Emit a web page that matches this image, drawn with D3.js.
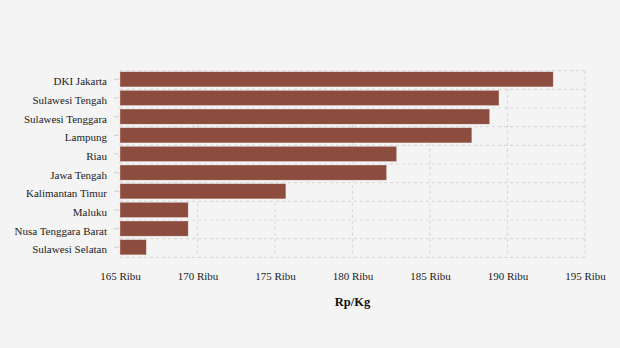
<!DOCTYPE html>
<html>
<head>
<meta charset="utf-8">
<script src="https://cdn.jsdelivr.net/npm/d3@7"></script>
<style>
  html, body { margin: 0; padding: 0; background: #f4f4f4; }
  svg { display: block; font-family: "Liberation Serif", "Times New Roman", serif; }
</style>
</head>
<body>
<svg id="chart" width="620" height="348"></svg>
<script>
// Harga per kilogram menurut provinsi (ribu rupiah)
const provinces = [
  "DKI Jakarta", "Sulawesi Tengah", "Sulawesi Tenggara", "Lampung", "Riau",
  "Jawa Tengah", "Kalimantan Timur", "Maluku", "Nusa Tenggara Barat", "Sulawesi Selatan"
];
const prices = [192.95, 189.45, 188.85, 187.7, 182.85, 182.2, 175.7, 169.4, 169.4, 166.7];
const xTicks = [165, 170, 175, 180, 185, 190, 195];
const xTitle = "Rp/Kg";

const svg = d3.select("#chart");
const W = 620;
const plotTop = 70.7, plotBottom = 257.3;

const x = d3.scaleLinear().domain([165, 195]).range([120, W - 35]);
const y = d3.scaleBand().domain(provinces).range([plotTop, plotBottom]).padding(0);
const step = y.step();
const barH = step * 0.815;
const barCenter = d => y(d) + 1 + barH / 2;

const grid = svg.append("g").attr("stroke", "#d9d9d9").attr("stroke-width", 1.2).attr("stroke-dasharray", "3,3");

// horizontal lines at category boundaries
const bandEdges = provinces.map(p => y(p)).concat([plotBottom]);
grid.selectAll("line.h").data(bandEdges).join("line")
  .attr("x1", x(165)).attr("x2", x(195))
  .attr("y1", d => d).attr("y2", d => d);

// vertical lines at ticks
grid.selectAll("line.v").data(xTicks).join("line")
  .attr("x1", d => x(d)).attr("x2", d => x(d))
  .attr("y1", plotTop).attr("y2", plotBottom);

// bars
svg.append("g").selectAll("rect").data(provinces).join("rect")
  .attr("x", x(165))
  .attr("y", d => y(d) + 1)
  .attr("height", barH)
  .attr("width", (d, i) => x(prices[i]) - x(165))
  .attr("fill", "#8c4c3e")
  .attr("stroke", "#ffffff")
  .attr("stroke-opacity", 0.5)
  .attr("stroke-width", 0.6);

// y axis: ticks and labels at bar centres
const gy = svg.append("g");
const ty = gy.selectAll("g").data(provinces).join("g")
  .attr("transform", d => `translate(0,${barCenter(d)})`);
ty.append("line").attr("x1", 114).attr("x2", 119).attr("stroke", "#d0d0d0");
ty.append("text").attr("x", 107).attr("dy", "0.54em").attr("text-anchor", "end")
  .attr("fill", "#222").style("font-size", "11px").text(d => d);

// x axis
const xAxis = d3.axisBottom(x).tickValues(xTicks).tickSize(0).tickPadding(14.5)
  .tickFormat(d => d + " Ribu");
const gx = svg.append("g").attr("transform", `translate(0,${plotBottom})`).call(xAxis);
gx.select(".domain").remove();
gx.selectAll(".tick text").attr("fill", "#222").style("font-size", "11px")
  .style("font-family", "'Liberation Serif', serif");

svg.append("text")
  .attr("x", (x(165) + x(195)) / 2).attr("y", 306)
  .attr("text-anchor", "middle")
  .attr("fill", "#111")
  .style("font-size", "12.5px").style("font-weight", "bold")
  .text(xTitle);
</script>
</body>
</html>
